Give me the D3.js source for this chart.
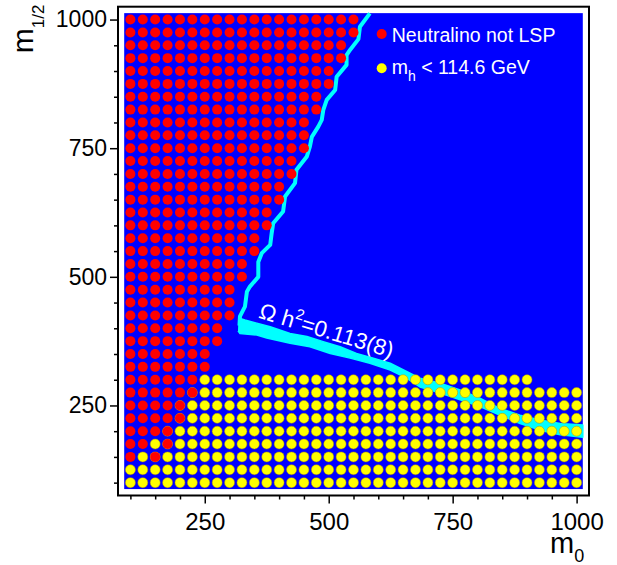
<!DOCTYPE html>
<html>
<head>
<meta charset="utf-8">
<script src="https://cdn.jsdelivr.net/npm/d3@7"></script>
<style>
	body { margin: 0; background: #fff; }
	text { font-family: "Liberation Sans", Arial, Helvetica, sans-serif; }
</style>
</head>
<body>
<svg id="chart" width="617" height="565"></svg>
<script>
// Scan grid of m0 (columns) and m1/2 (rows)
var m0Grid = [100, 125, 150, 175, 200, 225, 250, 275, 300, 325, 350, 375, 400, 425, 450, 475, 500, 525, 550,
	575, 600, 625, 650, 675, 700, 725, 750, 775, 800, 825, 850, 875, 900, 925, 950, 975, 1000];

// Neutralino not LSP: for each m1/2 row, points from m0=100 up to redMax
var redRows = [1000, 975, 950, 925, 900, 875, 850, 825, 800, 775, 750, 725, 700, 675, 650, 625, 600, 575, 550,
	525, 500, 475, 450, 425, 400, 375, 350, 325, 300, 275, 250, 225, 200, 175, 150];
var redMax = [550, 550, 525, 525, 500, 500, 475, 475, 450, 450, 450, 425, 425, 400, 400, 375, 375, 350, 350,
	325, 325, 300, 300, 300, 275, 275, 250, 250, 225, 225, 200, 200, 175, 175, 150];
// points inside that range which are not red [m0, m1/2]
var redGaps = [[150, 175], [125, 150]];

// m_h < 114.6 GeV: for each row, points from yellowMin to yellowMax
var yellowRows = [300, 275, 250, 225, 200, 175, 150, 125, 100];
var yellowMin = [250, 225, 200, 200, 175, 150, 125, 100, 100];
var yellowMax = [900, 1000, 1000, 1000, 1000, 1000, 1000, 1000, 1000];

// Omega h^2 band: thin upper branch [m0, m1/2]
var relicLine = [[583, 1012], [563, 986], [560, 962], [543, 941], [536, 931], [536, 912], [516, 889],
	[513, 863], [496, 844], [489, 824], [486, 805], [479, 792], [466, 772], [462, 753], [456, 734],
	[435, 708], [432, 682], [412, 656], [408, 627], [388, 604], [385, 585], [382, 562], [365, 546],
	[358, 529], [358, 500], [341, 481], [335, 471], [331, 442], [321, 423], [320, 405]];
// thick lower branch, upper edge then lower edge
var relicUpper = [[318, 420], [331, 416], [355, 410], [382, 403], [422, 390], [456, 384], [489, 374],
	[523, 364], [556, 351], [590, 342], [624, 332], [657, 316], [684, 303], [725, 293], [765, 280],
	[805, 264], [846, 244], [886, 231], [926, 222], [967, 215], [1012.5, 212]];
var relicLower = [[1012.5, 188], [967, 193], [926, 202], [886, 215], [846, 231], [805, 248], [765, 261],
	[725, 274], [684, 286], [657, 303], [624, 319], [583, 332], [543, 342], [503, 351], [462, 364],
	[422, 371], [375, 381], [355, 387], [321, 390], [317, 395]];

var majorTicks = [250, 500, 750, 1000];
var minorTicks = [100, 150, 200, 300, 350, 400, 450, 550, 600, 650, 700, 800, 850, 900, 950];

var svg = d3.select("#chart");
var margin = {top: 6.7, right: 28, bottom: 69.5, left: 118};
var width = +svg.attr("width") - margin.left - margin.right;
var height = +svg.attr("height") - margin.top - margin.bottom;

var x = d3.scaleLinear().domain([75, 1025]).range([0, width]);
var y = d3.scaleLinear().domain([75, 1025]).range([height, 0]);

var g = svg.append("g").attr("transform", "translate(" + margin.left + "," + margin.top + ")");

// blue background covers the scanned area (grid +- half a step)
var half = 12.5;
g.append("rect")
	.attr("x", x(m0Grid[0] - half))
	.attr("y", y(1000 + half))
	.attr("width", x(1000 + half) - x(m0Grid[0] - half))
	.attr("height", y(100 - half) - y(1000 + half))
	.attr("fill", "#0000ff");

// relic density band
var bandLine = d3.line().x(function(d) { return x(d[0]); }).y(function(d) { return y(d[1]); });
g.append("path")
	.datum(relicUpper.concat(relicLower))
	.attr("d", bandLine)
	.attr("fill", "#00ffff")
	.attr("stroke", "#00ffff")
	.attr("stroke-width", 1.5)
	.attr("stroke-linejoin", "round");
g.append("path")
	.datum(relicLine)
	.attr("d", bandLine)
	.attr("fill", "none")
	.attr("stroke", "#00ffff")
	.attr("stroke-width", 4)
	.attr("stroke-linejoin", "round");

// build point lists
var yellowPts = [];
yellowRows.forEach(function(r, i) {
	m0Grid.forEach(function(m) {
		if (m >= yellowMin[i] && m <= yellowMax[i]) yellowPts.push([m, r]);
	});
});
var redPts = [];
redRows.forEach(function(r, i) {
	m0Grid.forEach(function(m) {
		var gap = redGaps.some(function(p) { return p[0] === m && p[1] === r; });
		if (m <= redMax[i] && !gap) redPts.push([m, r]);
	});
});

g.selectAll(".yel")
	.data(yellowPts)
	.enter().append("circle")
	.attr("class", "yel")
	.attr("cx", function(d) { return x(d[0]); })
	.attr("cy", function(d) { return y(d[1]); })
	.attr("r", 5)
	.attr("fill", "#ffff00")
	.attr("stroke", "#b09000")
	.attr("stroke-width", 0.5);

g.selectAll(".red")
	.data(redPts)
	.enter().append("circle")
	.attr("class", "red")
	.attr("cx", function(d) { return x(d[0]); })
	.attr("cy", function(d) { return y(d[1]); })
	.attr("r", 5)
	.attr("fill", "#ff0000");

// band label
var lab = g.append("text")
	.attr("transform", "translate(" + x(357) + "," + y(421) + ") rotate(17)")
	.attr("fill", "#fff")
	.style("font-size", "22.5px");
lab.append("tspan").text("\u03A9 h");
lab.append("tspan").attr("dy", -10).style("font-size", "15px").text("2");
lab.append("tspan").attr("dy", 10).text("=0.113(8)");

// legend
var leg = g.append("g").attr("transform", "translate(" + (381.7 - margin.left) + "," + (34 - margin.top) + ")");
leg.append("circle").attr("r", 5).attr("fill", "#ff0000");
leg.append("text").attr("x", 10).attr("y", 7.7).attr("fill", "#fff").style("font-size", "19.5px")
	.text("Neutralino not LSP");
leg.append("circle").attr("cy", 34.3).attr("r", 5).attr("fill", "#ffff00");
var lt = leg.append("text").attr("x", 10).attr("y", 40).attr("fill", "#fff").style("font-size", "19.5px");
lt.append("tspan").text("m");
lt.append("tspan").attr("dy", 7).style("font-size", "14px").text("h");
lt.append("tspan").attr("dy", -7).text(" < 114.6 GeV");

// axes: minor then major ticks
g.append("g")
	.attr("transform", "translate(0," + height + ")")
	.call(d3.axisBottom(x).tickValues(minorTicks).tickSize(4).tickFormat(""))
	.call(function(a) { a.select(".domain").remove(); });
var xAxis = g.append("g")
	.attr("class", "axis axis-x")
	.attr("transform", "translate(0," + height + ")")
	.call(d3.axisBottom(x).tickValues(majorTicks).tickSize(8).tickPadding(9.5).tickFormat(d3.format("d")));
xAxis.select(".domain").remove();
xAxis.selectAll("text").style("font-size", "24px").attr("fill", "#000");

g.append("g")
	.call(d3.axisLeft(y).tickValues(minorTicks).tickSize(4).tickFormat(""))
	.call(function(a) { a.select(".domain").remove(); });
var yAxis = g.append("g")
	.attr("class", "axis axis-y")
	.call(d3.axisLeft(y).tickValues(majorTicks).tickSize(8).tickPadding(3).tickFormat(d3.format("d")));
yAxis.select(".domain").remove();
yAxis.selectAll("text").style("font-size", "23px").attr("fill", "#000");
g.selectAll(".tick line").attr("stroke", "#000").attr("stroke-width", 1.5);

// frame
g.append("rect")
	.attr("width", width)
	.attr("height", height)
	.attr("fill", "none")
	.attr("stroke", "#000")
	.attr("stroke-width", 2);

// axis titles
var xt = svg.append("text").attr("x", 550).attr("y", 553).style("font-size", "29px");
xt.append("tspan").text("m");
xt.append("tspan").attr("dy", 8.5).style("font-size", "18px").text("0");

var yt = svg.append("text").attr("transform", "translate(33.3,53.3) rotate(-90)").style("font-size", "30px");
yt.append("tspan").text("m");
yt.append("tspan").attr("dy", 11).style("font-size", "17px").text("1/2");
</script>
</body>
</html>
